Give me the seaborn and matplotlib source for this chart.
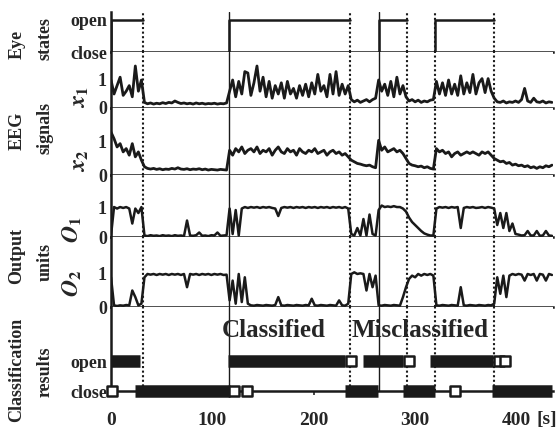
import numpy as np
import pandas as pd
import matplotlib
matplotlib.use('Agg')
import matplotlib.pyplot as plt
import seaborn as sns

# time grid (s), one sample every 3 s
t = np.arange(0, 438, 3)

# eye states: open intervals, others closed
open_start = [0, 116, 264, 320]
open_end = [32, 236, 292, 378]
trans_dotted = [32, 236, 292, 320, 378]
trans_solid = [116, 264]

# EEG signals x1, x2
x1 = [1.0, 0.5, 0.8, 1.1, 0.45, 0.6, 0.8, 0.4, 1.5, 0.6, 1.0,
      0.2, 0.15, 0.18, 0.14, 0.17, 0.15, 0.19, 0.16, 0.2, 0.18, 0.25, 0.2, 0.16, 0.18,
      0.15, 0.17, 0.14, 0.18, 0.15, 0.17, 0.14, 0.16, 0.15, 0.17, 0.14, 0.16, 0.15, 0.18,
      0.6, 1.0, 0.4, 0.95, 0.5, 1.3, 1.25, 0.45, 0.9, 1.5, 0.6, 1.1, 0.4, 0.95, 0.35,
      0.8, 0.5, 0.9, 0.35, 0.95, 0.5, 0.7, 0.35, 0.8, 0.45, 0.85, 0.4, 0.9, 0.5, 1.2,
      0.6, 0.8, 0.4, 1.2, 0.5, 1.3, 0.45, 0.85, 0.5, 0.8,
      0.3, 0.22, 0.28, 0.2, 0.25, 0.3, 0.22, 0.3, 0.35,
      1.0, 0.6, 0.85, 0.45, 0.95, 0.4, 1.1, 0.5, 0.8, 0.4,
      0.25, 0.3, 0.22, 0.28, 0.2, 0.25, 0.22, 0.28, 0.3,
      0.95, 0.5, 0.9, 0.45, 1.0, 0.5, 0.85, 0.45, 1.15, 0.5, 0.9, 0.55, 1.2, 0.5,
      0.9, 1.05, 0.55, 1.05, 0.6,
      0.35, 0.22, 0.2, 0.25, 0.18, 0.22, 0.2, 0.25, 0.2, 0.3, 0.7, 0.25, 0.2, 0.35,
      0.22, 0.2, 0.25, 0.18, 0.22, 0.2]
x2 = [1.3, 1.1, 0.85, 0.95, 0.7, 0.8, 0.6, 0.95, 0.55, 0.7, 0.45,
      0.25, 0.2, 0.18, 0.2, 0.17, 0.19, 0.16, 0.18, 0.17, 0.2, 0.18, 0.22, 0.18, 0.17,
      0.19, 0.16, 0.18, 0.17, 0.19, 0.16, 0.18, 0.15, 0.17, 0.16, 0.15, 0.17, 0.16, 0.15,
      0.75, 0.6, 0.8, 0.7, 0.85, 0.65, 0.75, 0.8, 0.7, 0.85, 0.65, 0.75, 0.7, 0.8, 0.6,
      0.75, 0.85, 0.7, 0.65, 0.8, 0.7, 0.75, 0.6, 0.8, 0.7, 0.65, 0.75, 0.7, 0.8, 0.65,
      0.7, 0.75, 0.6, 0.7, 0.75, 0.65, 0.7, 0.6, 0.65, 0.55,
      0.45, 0.4, 0.35, 0.33, 0.3, 0.28, 0.3, 0.25, 0.22,
      1.05, 0.75, 0.85, 0.7, 0.75, 0.8, 0.7, 0.75, 0.65, 0.5,
      0.35, 0.3, 0.28, 0.25, 0.27, 0.22, 0.25, 0.2, 0.18,
      0.8, 0.7, 0.75, 0.65, 0.7, 0.55, 0.65, 0.7, 0.6, 0.65, 0.7, 0.65, 0.7, 0.65,
      0.6, 0.7, 0.65, 0.7, 0.6,
      0.5, 0.45, 0.4, 0.42, 0.35, 0.38, 0.3, 0.33, 0.28, 0.3, 0.25, 0.28, 0.22, 0.25,
      0.2, 0.25, 0.22, 0.28, 0.25, 0.3]

# output units O1, O2
o1 = [0.05, 1.0, 0.95, 1.0, 0.97, 1.0, 0.95, 0.45, 0.95, 0.8, 1.0,
      0.05, 0.03, 0.06, 0.04, 0.05, 0.03, 0.06, 0.04, 0.05, 0.03, 0.06, 0.04, 0.05, 0.03,
      0.55, 0.05, 0.04, 0.06, 0.15, 0.04, 0.05, 0.03, 0.06, 0.05, 0.15, 0.04, 0.05, 0.06,
      0.95, 0.1, 0.9, 0.05, 0.95, 1.0, 0.97, 1.0, 0.98, 1.0, 0.97, 1.0, 0.98, 1.0, 0.97,
      0.95, 0.7, 0.97, 1.0, 0.98, 1.0, 0.97, 1.0, 0.98, 1.0, 0.97, 1.0, 0.98, 1.0, 0.97,
      1.0, 0.98, 1.0, 0.97, 1.0, 0.98, 1.0, 0.97, 1.0, 0.95,
      0.1, 0.05, 0.3, 0.05, 0.6, 0.05, 0.75, 0.1, 0.05,
      0.9, 1.05, 1.0, 1.02, 1.0, 1.03, 1.0, 1.0, 0.95, 0.85,
      0.65, 0.5, 0.4, 0.3, 0.2, 0.12, 0.08, 0.05, 0.05,
      0.95, 1.0, 0.98, 1.0, 0.97, 1.0, 0.98, 1.0, 0.3, 0.97, 1.0, 0.98, 1.0, 0.97,
      0.98, 1.0, 0.97, 1.0, 0.98,
      0.95, 0.4, 0.8, 0.3, 0.8, 0.2, 0.45, 0.1, 0.08, 0.05, 0.06, 0.2, 0.05, 0.05,
      0.2, 0.04, 0.05, 0.2, 0.05, 0.04]
o2 = [0.9, 0.05, 0.03, 0.05, 0.04, 0.06, 0.05, 0.5, 0.3, 0.05, 0.1,
      0.9, 1.0, 0.98, 1.0, 0.97, 1.0, 0.98, 1.0, 0.97, 1.0, 0.98, 1.0, 0.97, 1.0,
      0.6, 1.0, 0.98, 1.0, 0.97, 1.0, 0.98, 1.0, 0.97, 1.0, 0.98, 1.0, 0.97, 0.98,
      0.2, 0.8, 0.1, 1.0, 0.15, 0.9, 0.1, 0.05, 0.04, 0.06, 0.05, 0.04, 0.06, 0.05, 0.04,
      0.06, 0.3, 0.05, 0.04, 0.06, 0.05, 0.04, 0.06, 0.05, 0.04, 0.06, 0.05, 0.25, 0.05,
      0.04, 0.06, 0.05, 0.04, 0.06, 0.05, 0.04, 0.2, 0.05, 0.04, 0.1,
      1.0, 1.05, 1.0, 1.02, 1.0, 0.5, 1.0, 0.6, 0.95,
      0.05, 0.04, 0.06, 0.05, 0.04, 0.06, 0.05, 0.04, 0.3, 0.6,
      0.85, 0.95, 0.9, 1.0, 0.95, 1.0, 0.97, 1.0, 0.95,
      0.05, 0.04, 0.06, 0.05, 0.04, 0.06, 0.05, 0.04, 0.6, 0.05, 0.04, 0.06, 0.05, 0.04,
      0.06, 0.05, 0.04, 0.06, 0.05,
      0.1, 0.9, 0.4, 0.95, 0.3, 0.95, 1.0, 0.97, 1.0, 0.98, 0.8, 1.0, 0.97, 1.0,
      0.8, 1.0, 0.98, 0.8, 1.0, 0.97]

# classification results: filled runs and hollow (misclassified) marks
cls_open_start = [0, 115, 249, 315]
cls_open_end = [29, 231, 288, 377]
cls_close_start = [24, 231, 288, 376]
cls_close_end = [117, 263, 320, 435]
hollow_open = [237, 294, 383, 389]
hollow_close = [1, 121, 134, 339]

sns.set_theme(style='white')
plt.rcParams['font.family'] = ['Liberation Serif', 'DejaVu Serif']
plt.rcParams['font.weight'] = 'bold'
plt.rcParams['mathtext.fontset'] = 'stix'

fig, axes = plt.subplots(6, 1, figsize=(5.58, 4.30), dpi=100, sharex=True,
                         gridspec_kw=dict(height_ratios=[40, 56, 67, 62, 70, 84], hspace=0))
fig.subplots_adjust(left=111/558, right=553/558, top=1-12/430, bottom=1-391/430)

# eye states
eye_rows = []
for k, (a, b) in enumerate(zip(open_start, open_end)):
    eye_rows += [(k, a, 0), (k, a, 1), (k, b, 1)]
eye_df = pd.DataFrame(eye_rows, columns=['seg', 't', 'state'])
sns.lineplot(data=eye_df, x='t', y='state', units='seg', estimator=None, sort=False,
             color='k', lw=1.8, ax=axes[0])
axes[0].set_ylim(0, 1.25)
axes[0].set_yticks([0, 1], ['close', 'open'])

# signals
sig_panels = [(x1, r'$x_1$', 2.0, 0.2, -0.045, 2.0), (x2, r'$x_2$', 2.03, 0.22, -0.045, 2.0),
              (o1, r'$O_1$', 2.07, 0.12, -0.06, 1.8), (o2, r'$O_2$', 2.12, 0.34, -0.06, 1.8)]
for ax, (vals, lab, top, ly, lx, w) in zip(axes[1:5], sig_panels):
    sns.lineplot(x=t, y=vals, color='k', lw=w, ax=ax)
    ax.set_ylim(0, top)
    ax.set_yticks([0, 1], ['0', '1'])
    ax.set_ylabel(lab, fontsize=17, labelpad=0)
    ax.yaxis.set_label_coords(lx, ly)

# classification
ax = axes[5]
bar_rows = []
for k, (a, b) in enumerate(zip(cls_open_start, cls_open_end)):
    bar_rows += [(k, a, 1), (k, b, 1)]
for k, (a, b) in enumerate(zip(cls_close_start, cls_close_end)):
    bar_rows += [(10 + k, a, 0), (10 + k, b, 0)]
bar_df = pd.DataFrame(bar_rows, columns=['seg', 't', 'level'])
sns.lineplot(data=bar_df, x='t', y='level', units='seg', estimator=None, sort=False,
             color='k', lw=9, solid_capstyle='butt', clip_on=False, ax=ax)
sns.scatterplot(x=hollow_open + hollow_close,
                y=[1] * len(hollow_open) + [0] * len(hollow_close),
                marker='s', s=50, facecolor='white', edgecolor='k', linewidth=1.8,
                clip_on=False, zorder=5, ax=ax)
ax.set_ylim(0, 2.8)
ax.set_yticks([0, 1], ['close', 'open'])
ax.text(160, 2.03, 'Classified', ha='center', va='center', fontsize=18, fontweight='bold')
ax.text(305, 2.03, 'Misclassified', ha='center', va='center', fontsize=18, fontweight='bold')
ax.set_xlim(0, 436)
ax.set_xticks([0, 100, 200, 300, 400])
ax.tick_params(axis='x', length=3, width=1.2, pad=12, labelsize=14, bottom=True)
ax.text(430, -0.335, '[s]', transform=ax.get_xaxis_transform(), ha='center', va='center',
        fontsize=14, fontweight='bold')

for ax in axes:
    for ln in trans_dotted:
        ax.axvline(ln, color='k', ls=(0, (1, 1.2)), lw=1.5, zorder=1)
    for ln in trans_solid:
        ax.axvline(ln, color='k', lw=1.0, zorder=1)
    ax.spines['top'].set_visible(False)
    ax.spines['right'].set_visible(False)
    for s in ['left', 'bottom']:
        ax.spines[s].set_color('k')
        ax.spines[s].set_linewidth(1.8)
    ax.tick_params(axis='y', length=0, pad=3, labelsize=13)
    ax.set_xlabel('')
    if ax is not axes[5]:
        ax.tick_params(axis='x', length=0)

axes[0].set_ylabel('')
axes[5].set_ylabel('')

# group labels on the left
groups = [('Eye', 17, 44), ('states', 45, 38), ('EEG', 17, 131), ('signals', 45, 128),
          ('Output', 17, 256), ('units', 45, 262),
          ('Classification', 17, 370), ('results', 45, 372)]
for txt, xp, yp in groups:
    fig.text(xp / 558, 1 - yp / 430, txt, rotation=90, ha='center', va='center',
             fontsize=13, fontweight='bold')

fig.savefig('out.png', dpi=100)
